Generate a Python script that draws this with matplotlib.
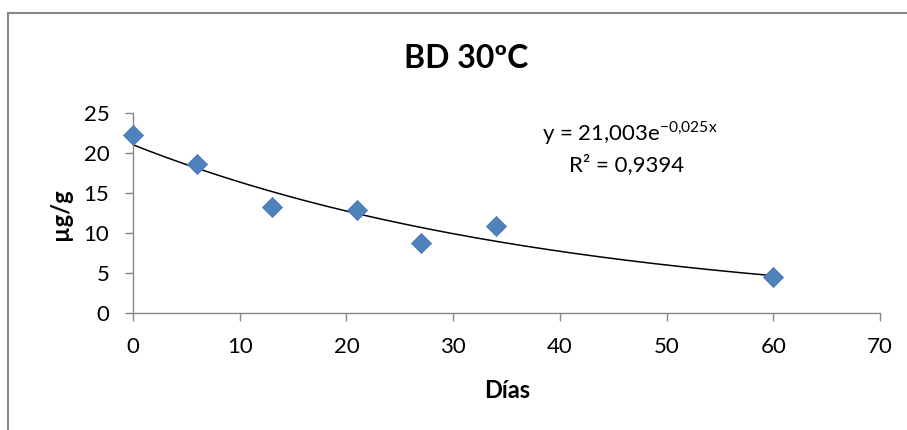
import numpy as np
import matplotlib.pyplot as plt
from matplotlib.patches import Rectangle

# data
dias = [0, 6, 13, 21, 27, 34, 60]
conc = [22.2, 18.55, 13.3, 12.9, 8.8, 10.9, 4.5]

# trendline as given by the equation on the chart
a_fit = 21.003
b_fit = -0.025

plt.rcParams['font.family'] = ['Lato', 'DejaVu Sans']
plt.rcParams['mathtext.fontset'] = 'custom'
plt.rcParams['mathtext.rm'] = 'Lato'

W, H = 907, 430
fig = plt.figure(figsize=(W / 100, H / 100), dpi=100)
# axes box in pixels: x 133..880, y 113..313
ax = fig.add_axes([133 / W, 1 - 313.3 / H, (880 - 133) / W, (313.3 - 112.7) / H])

xt = np.linspace(0, 60, 200)
ax.plot(xt, a_fit * np.exp(b_fit * xt), color='black', lw=1.1, zorder=2)
ax.plot(dias, conc, linestyle='none', marker='D', markersize=9.8,
        markerfacecolor='#4F81BD', markeredgecolor='#4677B2', markeredgewidth=0.6,
        zorder=3, clip_on=False)

ax.set_xlim(0, 70)
ax.set_ylim(0, 25)
ax.set_xticks(range(0, 71, 10))
ax.set_yticks(range(0, 26, 5))

for s in ['top', 'right']:
    ax.spines[s].set_visible(False)
for s in ['left', 'bottom']:
    ax.spines[s].set_color('#868686')
    ax.spines[s].set_linewidth(1.0)

ax.tick_params(axis='both', colors='#868686', labelcolor='black', labelsize=16,
               direction='out', length=6, width=1.0, pad=11)

def px(x, y):
    return x / W, 1 - y / H

fig.text(*px(466, 58), 'BD 30ºC', fontsize=23, fontweight='bold',
         ha='center', va='center')
fig.text(*px(507, 390), 'Días', fontsize=17, fontweight='bold',
         ha='center', va='center')
fig.text(*px(61, 214), 'µg/g', fontsize=17, fontweight='bold',
         ha='center', va='center', rotation=90)

fig.text(*px(630, 133), r'y = 21,003e$^{\mathrm{-0{,}025x}}$', fontsize=16,
         ha='center', va='center')
fig.text(*px(627, 165), 'R² = 0,9394', fontsize=16, ha='center', va='center')

# outer chart border
fig.patches.append(Rectangle((8 / W, -0.1), 1.2, (H - 13) / H + 0.1,
                             transform=fig.transFigure, fill=False,
                             edgecolor='#868686', lw=1.5))

fig.savefig('out.png', dpi=100)
